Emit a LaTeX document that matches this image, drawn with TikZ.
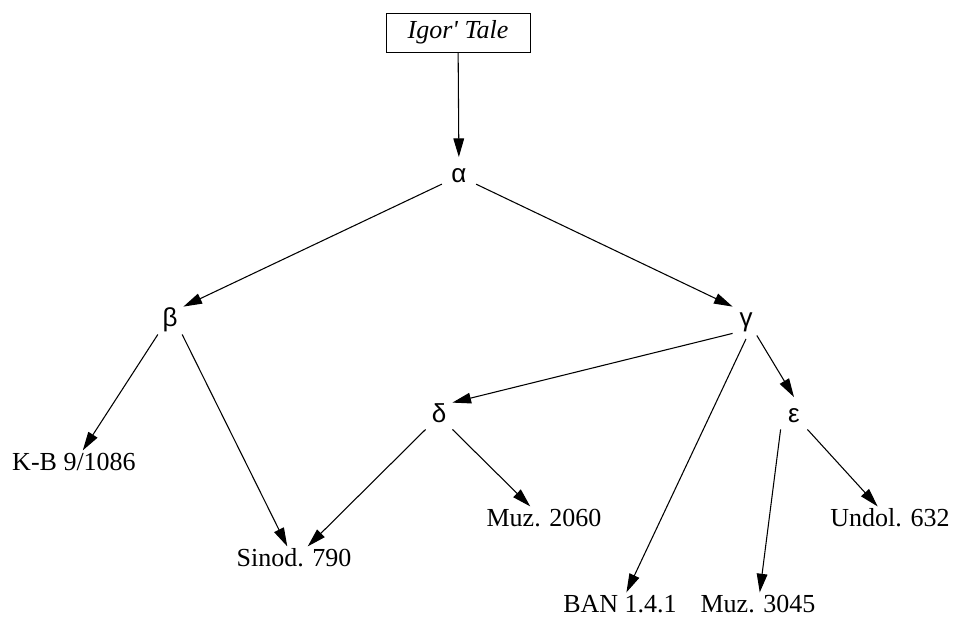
\documentclass[tikz,border=0pt]{standalone}
\usepackage{fontspec}
\setmainfont{Liberation Serif}
\newfontfamily\greekfont{Liberation Sans}
\usetikzlibrary{arrows.meta}

\tikzset{
  letter/.style={circle,minimum size=28pt,inner sep=0pt,
    font=\greekfont\fontsize{19.5}{22}\selectfont,text height=14pt,text depth=4pt},
  manuscript/.style={inner sep=1pt,font=\fontsize{19.5}{22}\selectfont,
    text height=14pt,text depth=4pt},
  link/.style={-{Triangle[length=14pt,width=8pt]},line width=0.8pt}
}

\begin{document}
\begin{tikzpicture}[x=0.75pt,y=0.75pt,yscale=-1,xscale=1]
  \useasboundingbox (0,0) rectangle (953,618);

  % archetype and hyparchetypes
  \node[draw,rectangle,minimum width=108pt,minimum height=29pt,inner sep=0pt,
    font=\itshape\fontsize{19.5}{22}\selectfont] (tale) at (458,32.5) {Igor\textquotesingle{} Tale};
  \node[letter] (alpha) at (459,176) {α};
  \node[letter] (beta) at (170,320) {β};
  \node[letter] (gamma) at (746,320) {γ};
  \node[letter] (delta) at (439,416) {δ};
  \node[letter] (eps) at (794,416) {ε};

  % surviving copies
  \node[manuscript] (kb) at (74,464) {K-B 9/1086};
  \node[manuscript] (sinod) at (294,560) {Sinod. 790};
  \node[manuscript] (muzA) at (544,520) {Muz. 2060};
  \node[manuscript] (undol) at (890,520) {Undol. 632};
  \node[manuscript] (ban) at (620,606) {BAN 1.4.1};
  \node[manuscript] (muzB) at (758,606) {Muz. 3045};

  \draw[link] (tale) -- (alpha);
  \draw[link] (alpha) -- (beta.45);
  \draw[link] (alpha) -- (gamma.135);
  \draw[link] (beta.230) -- (kb);
  \draw[link] (beta.310) -- (sinod);
  \draw[link] (gamma.225) -- (delta.45);
  \draw[link] (gamma.270) -- (ban);
  \draw[link] (gamma.305) -- (eps.north);
  \draw[link] (delta.225) -- (sinod);
  \draw[link] (delta.315) -- (muzA);
  \draw[link] (eps.225) -- (muzB);
  \draw[link] (eps.315) -- (undol);
\end{tikzpicture}
\end{document}
